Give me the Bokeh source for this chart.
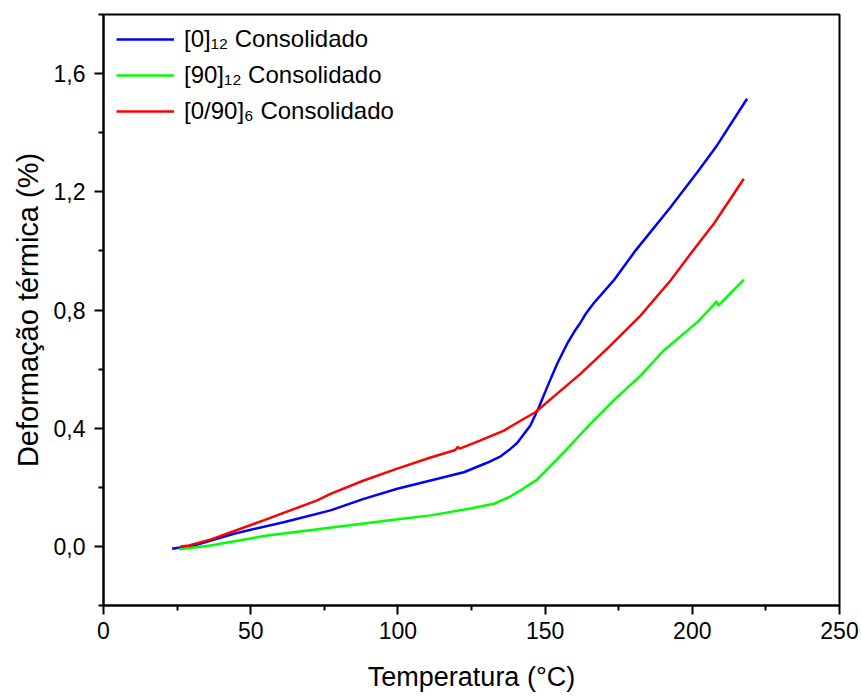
from bokeh.plotting import figure
from bokeh.models import Legend, LegendItem, FixedTicker, CustomJSTickFormatter
from bokeh.embed import file_html
from bokeh.resources import INLINE

# Series data (temperature °C, thermal strain %)
t_0 = [23.3, 26.0, 30.7, 44.3, 61.2, 77.1, 88.4, 99.8, 111.1, 122.4, 130.3, 134.9, 138.2,
       140.5, 145.0, 147.9, 150.7, 154.1, 157.5, 160.0, 162.0, 164.0, 166.5, 173.3, 180.7,
       192.6, 201.7, 208.4, 218.6]
d_0 = [-0.008, -0.004, 0.003, 0.043, 0.082, 0.122, 0.161, 0.195, 0.223, 0.251, 0.283, 0.305, 0.330,
       0.350, 0.409, 0.471, 0.539, 0.618, 0.686, 0.728, 0.757, 0.790, 0.823, 0.900, 1.001,
       1.148, 1.266, 1.357, 1.515]

t_90 = [25.6, 36.3, 55.6, 78.2, 98.6, 111.1, 124.6, 132.6, 138.2, 141.0, 147.3, 156.4, 165.4,
        173.3, 182.4, 190.3, 201.7, 207.5, 208.2, 208.8, 217.5]
d_90 = [-0.010, 0.003, 0.037, 0.065, 0.090, 0.105, 0.128, 0.144, 0.169, 0.186, 0.226, 0.319, 0.415,
        0.494, 0.578, 0.663, 0.759, 0.820, 0.830, 0.815, 0.903]

t_090 = [26.2, 29.0, 36.3, 54.4, 72.6, 77.1, 88.4, 99.8, 111.1, 119.5, 120.3, 121.0, 128.1,
         136.0, 142.8, 146.7, 154.1, 162.0, 171.1, 182.4, 192.6, 199.4, 207.3, 217.5]
d_090 = [0.000, 0.003, 0.023, 0.088, 0.156, 0.178, 0.223, 0.263, 0.301, 0.326, 0.336, 0.331, 0.359,
         0.392, 0.432, 0.454, 0.517, 0.584, 0.669, 0.781, 0.900, 0.990, 1.092, 1.244]

labels = ["[0]\u2081\u2082 Consolidado", "[90]\u2081\u2082 Consolidado", "[0/90]\u2086 Consolidado"]
colors = ["#0000ff", "#00ff00", "#ff0000"]

x_ticks = [0, 50, 100, 150, 200, 250]
x_minor = [25, 75, 125, 175, 225]
y_ticks = [0.0, 0.4, 0.8, 1.2, 1.6]
y_minor = [-0.2, 0.2, 0.6, 1.0, 1.4, 1.8]

FONT = "Liberation Sans"

p = figure(width=861, height=697, output_backend="svg", toolbar_location=None,
           x_range=(0, 250), y_range=(-0.2, 1.8),
           min_border_left=103, min_border_right=22, min_border_top=14, min_border_bottom=92)
p.background_fill_color = "white"
p.border_fill_color = "white"
p.grid.visible = False
p.outline_line_color = "black"
p.outline_line_width = 2
p.outline_line_alpha = 1

r1 = p.line(t_0, d_0, line_color=colors[0], line_width=2.5)
r2 = p.line(t_90, d_90, line_color=colors[1], line_width=2.5)
r3 = p.line(t_090, d_090, line_color=colors[2], line_width=2.5)

p.xaxis.ticker = FixedTicker(ticks=x_ticks, minor_ticks=x_minor)
p.yaxis.ticker = FixedTicker(ticks=y_ticks, minor_ticks=y_minor)
p.yaxis.formatter = CustomJSTickFormatter(code="return tick.toFixed(1).replace('.', ',');")

for ax in (p.xaxis[0], p.yaxis[0]):
    ax.axis_line_width = 2
    ax.axis_line_color = "black"
    ax.major_tick_line_width = 2
    ax.minor_tick_line_width = 2
    ax.major_tick_in = 0
    ax.major_tick_out = 9
    ax.minor_tick_in = 0
    ax.minor_tick_out = 5
    ax.major_label_text_font = FONT
    ax.major_label_text_font_size = "23px"
    ax.major_label_text_color = "black"
    ax.axis_label_text_font = FONT
    ax.axis_label_text_font_style = "normal"
    ax.axis_label_text_color = "black"

p.xaxis.axis_label_text_font_size = "27px"
p.yaxis.axis_label_text_font_size = "29px"
p.xaxis.axis_label = "Temperatura (°C)"
p.yaxis.axis_label = "Deformação térmica (%)"
p.xaxis.major_label_standoff = 7
p.xaxis.axis_label_standoff = 20
p.yaxis.major_label_standoff = 9
p.yaxis.axis_label_standoff = 7

legend = Legend(items=[LegendItem(label=labels[0], renderers=[r1]),
                       LegendItem(label=labels[1], renderers=[r2]),
                       LegendItem(label=labels[2], renderers=[r3])],
                location=(13, 476))
legend.border_line_color = None
legend.background_fill_alpha = 0
legend.padding = 8
legend.margin = 0
legend.spacing = 0
legend.glyph_width = 58
legend.glyph_height = 36
legend.label_height = 36
legend.label_standoff = 10
legend.label_text_font = FONT
legend.label_text_font_size = "24px"
legend.label_text_color = "black"
p.add_layout(legend, "center")

open("out.html", "w").write(file_html(p, INLINE))
